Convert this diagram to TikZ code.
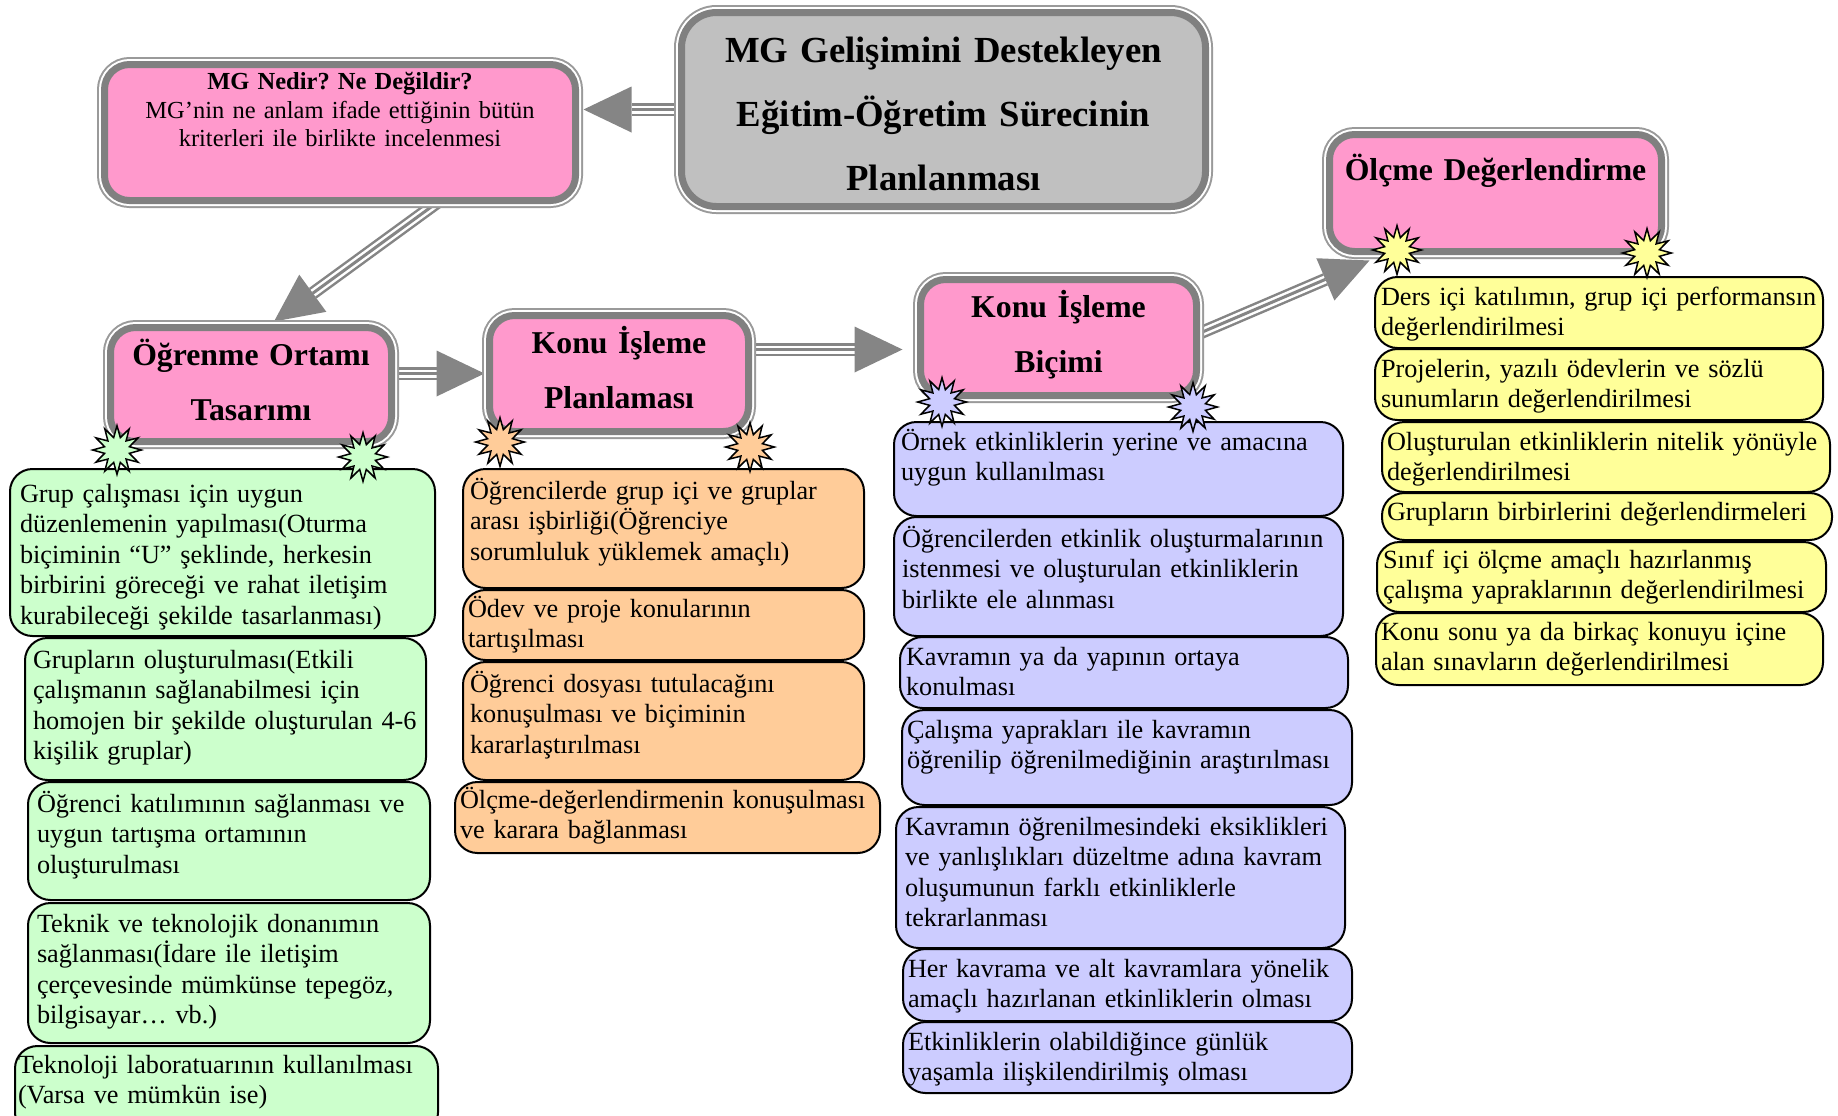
\documentclass[tikz,border=0pt]{standalone}
\usepackage{fontspec}
\setmainfont{Liberation Serif}
\frenchspacing
\usetikzlibrary{calc,shapes.geometric}
\definecolor{pinkf}{HTML}{FF99CC}
\definecolor{maingray}{HTML}{C0C0C0}
\definecolor{bandgray}{HTML}{808080}
\definecolor{thingray}{HTML}{9A9A9A}
\definecolor{arrowgray}{HTML}{858585}
\definecolor{greenf}{HTML}{CCFFCC}
\definecolor{orangef}{HTML}{FFCC99}
\definecolor{bluef}{HTML}{CCCCFF}
\definecolor{yellowf}{HTML}{FFFF99}
\pgfdeclarelayer{bg}
\pgfsetlayers{bg,main}
\tikzset{
  every node/.style={inner sep=0pt, outer sep=0pt},
  framebox/.style={draw=bandgray, line width=2.8pt, rounded corners=10pt,
     preaction={draw=thingray, line width=6pt},
     preaction={draw=white, line width=4.4pt}},
  headbox/.style={framebox, fill=pinkf},
  mainbox/.style={framebox, fill=maingray, rounded corners=14pt},
  lbox/.style={draw=black, line width=0.8pt, rounded corners=9pt},
  gbox/.style={lbox, fill=greenf},
  obox/.style={lbox, fill=orangef},
  bbox/.style={lbox, fill=bluef},
  ybox/.style={lbox, fill=yellowf},
  itemtext/.style={font=\fontsize{10.5pt}{12.2pt}\selectfont, align=left, text width=200pt, anchor=base west},
  headtext/.style={font=\bfseries\fontsize{12.7pt}{22pt}\selectfont, align=center, text width=300pt, anchor=base},
  maintext/.style={font=\bfseries\fontsize{14.7pt}{25.6pt}\selectfont, align=center, text width=300pt, anchor=base},
  smalltitle/.style={font=\bfseries\fontsize{9.8pt}{11.2pt}\selectfont, align=center, text width=300pt, anchor=base},
  smallbody/.style={font=\fontsize{9.8pt}{11.2pt}\selectfont, align=center, text width=300pt, anchor=base},
  burst/.style={star, star points=12, star point ratio=1.9, minimum size=19.5pt, draw=black, line width=0.6pt},
  shaftA/.style={draw=arrowgray, line width=5.2pt},
  shaftB/.style={draw=white, line width=3.2pt},
  shaftC/.style={draw=arrowgray, line width=1.2pt},
}
\newcommand\boxat[6]{\node[#1, anchor=north west, minimum width={(#5-#3)*0.4pt}, minimum height={(#6-#4)*0.4pt}] (#2) at (#3,#4) {};}
\newcommand\listbox[9]{%
  \node[#1, anchor=north west, minimum width={(#5-#3)*0.4pt}, minimum height={(#6-#4)*0.4pt}] (#2) at (#3,#4) {};
  \node[itemtext] (#2t) at (#7,#8) {#9};}
\newcommand\bigarrow[2]{%
  \coordinate (hb) at ($(#2)!19.2pt!(#1)$);
  \draw[shaftA] (#1) -- (hb);
  \draw[shaftB] (#1) -- (hb);
  \draw[shaftC] (#1) -- (hb);
  \fill[arrowgray] (#2) -- ($(hb)!9.2pt!90:(#2)$) -- ($(hb)!9.2pt!-90:(#2)$) -- cycle;}
\begin{document}
\begin{tikzpicture}[x=0.4pt,y=-0.4pt]
\useasboundingbox (0,0) rectangle (1838,1115);
\clip (0,0) rectangle (1838,1115);

% head boxes
\boxat{mainbox}{main}{681.5}{12.5}{1205.5}{206.5}
\boxat{headbox}{mgn}{104.5}{64.5}{575.5}{200.5}
\boxat{headbox}{ogr}{110.5}{327.5}{391.5}{441.5}
\boxat{headbox}{kon}{489.5}{315.5}{748.5}{431.5}
\boxat{headbox}{kib}{920.5}{279.5}{1196.5}{395.5}
\boxat{headbox}{olc}{1329.5}{134.5}{1661.5}{251.5}

\node[maintext] (maint) at (943.5,62) {MG Gelişimini Destekleyen\\Eğitim-Öğretim Sürecinin\\Planlanması};
\node[smalltitle] (mgnt) at (340,89) {MG Nedir? Ne Değildir?};
\node[smallbody] (mgnb) at (340,118) {MG’nin ne anlam ifade ettiğinin bütün\\kriterleri ile birlikte incelenmesi};
\node[headtext] (ogrt) at (251,365) {Öğrenme Ortamı\\Tasarımı};
\node[headtext] (kont) at (619,353) {Konu İşleme\\Planlaması};
\node[headtext] (kibt) at (1058.5,317) {Konu İşleme\\Biçimi};
\node[headtext] (olct) at (1495.5,180) {Ölçme Değerlendirme};

% arrows
\begin{pgfonlayer}{bg}
\coordinate (a1s) at (main.west);
\coordinate (a1e) at ($(mgn.east |- main.west)+(8,0)$);
\coordinate (a2s) at ($(mgn.south)+(100,0)$);
\coordinate (a2e) at ($(ogr.north)+(23,-6)$);
\coordinate (a3s) at (ogr.east |- kon.west);
\coordinate (a3e) at ($(kon.west)+(-5,0)$);
\coordinate (a4s) at ($(kon.east)+(0,-24)$);
\coordinate (a4e) at ($(kib.west)+(-18,12)$);
\coordinate (a5s) at ($(kib.east)+(0,-3)$);
\coordinate (a5e) at ($(olc.south west)+(40,9)$);
\bigarrow{a1s}{a1e}
\bigarrow{a2s}{a2e}
\bigarrow{a3s}{a3e}
\bigarrow{a4s}{a4e}
\bigarrow{a5s}{a5e}
\end{pgfonlayer}

% green column
\listbox{gbox}{g1}{10}{469}{435}{636}{20}{502}{Grup çalışması için uygun\\düzenlemenin yapılması(Oturma\\biçiminin “U” şeklinde, herkesin\\birbirini göreceği ve rahat iletişim\\kurabileceği şekilde tasarlanması)}
\listbox{gbox}{g2}{25}{638}{426}{780}{33}{668}{Grupların oluşturulması(Etkili\\çalışmanın sağlanabilmesi için\\homojen bir şekilde oluşturulan 4-6\\kişilik gruplar)}
\listbox{gbox}{g3}{28}{782}{430}{900}{37}{812}{Öğrenci katılımının sağlanması ve\\uygun tartışma ortamının\\oluşturulması}
\listbox{gbox}{g4}{28}{903}{430}{1043}{37}{932}{Teknik ve teknolojik donanımın\\sağlanması(İdare ile iletişim\\çerçevesinde mümkünse tepegöz,\\bilgisayar… vb.)}
\listbox{gbox}{g5}{15}{1046}{438}{1135}{18}{1073}{Teknoloji laboratuarının kullanılması\\(Varsa ve mümkün ise)}

% orange column
\listbox{obox}{o1}{463}{469}{864}{588}{470}{499}{Öğrencilerde grup içi ve gruplar\\arası işbirliği(Öğrenciye\\sorumluluk yüklemek amaçlı)}
\listbox{obox}{o2}{463}{590}{864}{660}{468}{617}{Ödev ve proje konularının\\tartışılması}
\listbox{obox}{o3}{463}{662}{864}{780}{470}{692}{Öğrenci dosyası tutulacağını\\konuşulması ve biçiminin\\kararlaştırılması}
\listbox{obox}{o4}{455}{782}{880}{853}{460}{808}{Ölçme-değerlendirmenin konuşulması\\ve karara bağlanması}

% blue column
\listbox{bbox}{b1}{894}{422}{1343}{516}{901}{450}{Örnek etkinliklerin yerine ve amacına\\uygun kullanılması}
\listbox{bbox}{b2}{894}{517}{1343}{636}{902}{547}{Öğrencilerden etkinlik oluşturmalarının\\istenmesi ve oluşturulan etkinliklerin\\birlikte ele alınması}
\listbox{bbox}{b3}{900}{637}{1348}{708}{906}{665}{Kavramın ya da yapının ortaya\\konulması}
\listbox{bbox}{b4}{902}{710}{1352}{805}{907}{738}{Çalışma yaprakları ile kavramın\\öğrenilip öğrenilmediğinin araştırılması}
\listbox{bbox}{b5}{896}{807}{1345}{948}{905}{835}{Kavramın öğrenilmesindeki eksiklikleri\\ve yanlışlıkları düzeltme adına kavram\\oluşumunun farklı etkinliklerle\\tekrarlanması}
\listbox{bbox}{b6}{903}{949}{1352}{1021}{908}{977}{Her kavrama ve alt kavramlara yönelik\\amaçlı hazırlanan etkinliklerin olması}
\listbox{bbox}{b7}{903}{1022}{1352}{1093}{908}{1050}{Etkinliklerin olabildiğince günlük\\yaşamla ilişkilendirilmiş olması}

% yellow column
\listbox{ybox}{y1}{1375}{277}{1823}{348}{1381}{305}{Ders içi katılımın, grup içi performansın\\değerlendirilmesi}
\listbox{ybox}{y2}{1375}{349}{1823}{420}{1381}{377}{Projelerin, yazılı ödevlerin ve sözlü\\sunumların değerlendirilmesi}
\listbox{ybox}{y3}{1382}{422}{1830}{492}{1387}{450}{Oluşturulan etkinliklerin nitelik yönüyle\\değerlendirilmesi}
\listbox{ybox}{y4}{1382}{493}{1832}{540}{1387}{520}{Grupların birbirlerini değerlendirmeleri}
\listbox{ybox}{y5}{1377}{542}{1826}{612}{1383}{568}{Sınıf içi ölçme amaçlı hazırlanmış\\çalışma yapraklarının değerlendirilmesi}
\listbox{ybox}{y6}{1376}{613}{1823}{685}{1381}{640}{Konu sonu ya da birkaç konuyu içine\\alan sınavların değerlendirilmesi}

% bursts
\node[burst, fill=greenf] (sg1) at (117,450) {};
\node[burst, fill=greenf] (sg2) at (363,457) {};
\node[burst, fill=orangef] (so1) at (500,442) {};
\node[burst, fill=orangef] (so2) at (750,447) {};
\node[burst, fill=bluef] (sb1) at (942,402) {};
\node[burst, fill=bluef] (sb2) at (1193,407) {};
\node[burst, fill=yellowf] (sy1) at (1397,250) {};
\node[burst, fill=yellowf] (sy2) at (1647,253) {};
\end{tikzpicture}
\end{document}
